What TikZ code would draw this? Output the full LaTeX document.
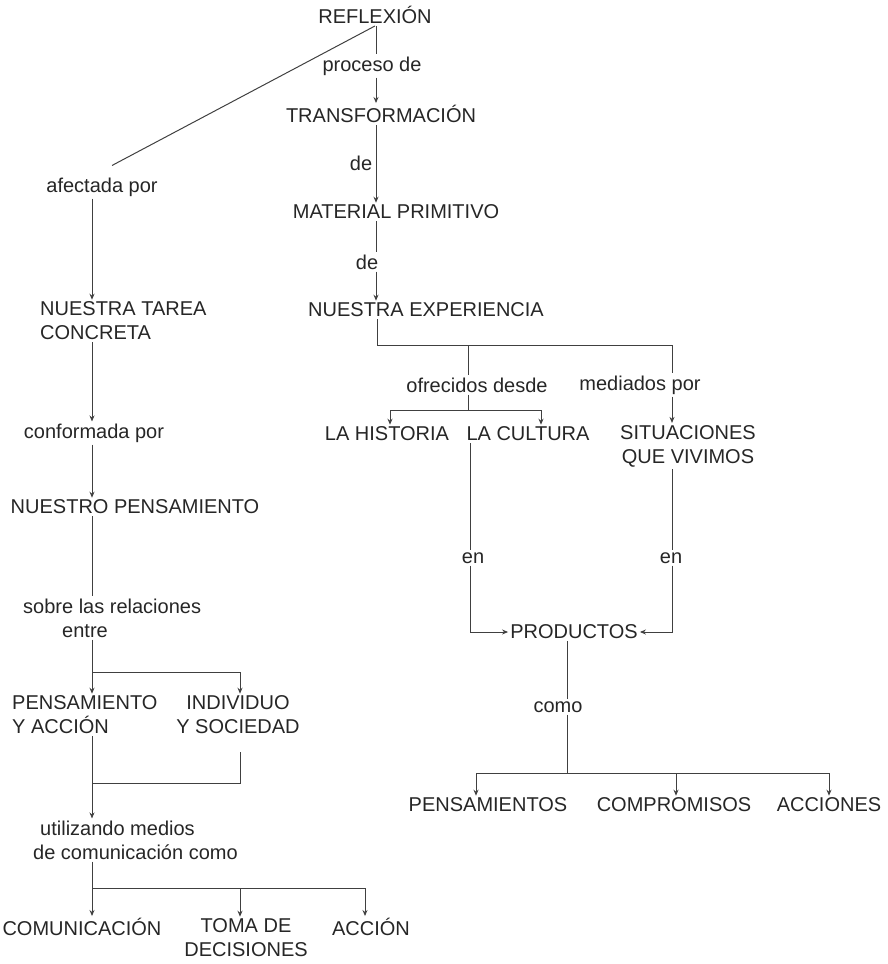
\documentclass[tikz,border=0pt]{standalone}
\usepackage{fontspec}
\setmainfont{Liberation Sans}
\usetikzlibrary{arrows.meta, positioning, calc}

\begin{document}
\begin{tikzpicture}[x=1pt, y=-1pt,
    txt/.style={font=\fontsize{20}{24}\selectfont, text=black!85, inner sep=2pt},
    ln/.style={black!75, line width=1pt},
    arr/.style={ln, -{Stealth[length=6pt, width=5pt]}}]
    \useasboundingbox (0,0) rectangle (888,964);

    % Right column
    \node[txt] (refl) at (375,15) {REFLEXIÓN};
    \node[txt] (proc) at (372,66) {proceso de};
    \node[txt] (trans) at (381,114) {TRANSFORMACIÓN};
    \node[txt] (de1) at (361,163) {de};
    \node[txt] (mat) at (396,212) {MATERIAL PRIMITIVO};
    \node[txt] (de2) at (367,262) {de};
    \node[txt] (exp) at (426,310) {NUESTRA EXPERIENCIA};
    \node[txt] (ofr) at (477,385) {ofrecidos desde};
    \node[txt] (med) at (640,385) {mediados por};
    \node[txt] (hist) at (387,434) {LA HISTORIA};
    \node[txt] (cult) at (528,434) {LA CULTURA};
    \node[txt, align=center] (sit) at (688,446) {SITUACIONES\\QUE VIVIMOS};
    \node[txt] (en1) at (473,558) {en};
    \node[txt] (en2) at (671,558) {en};
    \node[txt] (prod) at (574,632) {PRODUCTOS};
    \node[txt] (como) at (558,707) {como};
    \node[txt] (pens) at (488,805) {PENSAMIENTOS};
    \node[txt] (comp) at (674,805) {COMPROMISOS};
    \node[txt] (acc) at (829,805) {ACCIONES};

    % Left column
    \node[txt] (afec) at (102,187) {afectada por};
    \node[txt, align=left, anchor=west] (tarea) at (38,321) {NUESTRA TAREA\\CONCRETA};
    \node[txt] (conf) at (94,433) {conformada por};
    \node[txt] (npens) at (135,507) {NUESTRO PENSAMIENTO};
    \node[txt, align=left, anchor=west] (sobre) at (21,618) {sobre las relaciones\\\hspace*{39pt}entre};
    \node[txt, align=left, anchor=west] (pya) at (10,715) {PENSAMIENTO\\Y ACCIÓN};
    \node[txt, align=center] (iys) at (238,715) {INDIVIDUO\\Y SOCIEDAD};
    \node[txt, align=left, anchor=west] (util) at (31,840) {\hspace*{7pt}utilizando medios\\de comunicación como};
    \node[txt] (comu) at (82,927) {COMUNICACIÓN};
    \node[txt, align=center] (toma) at (246,938) {TOMA DE\\DECISIONES};
    \node[txt] (accion) at (371,927) {ACCIÓN};

    % Junctions
    \coordinate (jexp) at (468,345);
    \coordinate (jofr) at (468,410);
    \coordinate (jcomo) at (567,773);
    \coordinate (jsobre) at (92,672);
    \coordinate (jpya) at (92,783);
    \coordinate (jutil) at (92,888);

    % Right connectors
    \draw[ln] (refl.south) -- ([xshift=10pt, yshift=10pt]afec.north);
    \draw[ln] (376,0 |- refl.south) -- (376,0 |- proc.north);
    \draw[arr] (376,0 |- proc.south) -- (376,0 |- trans.north);
    \draw[arr] (376,0 |- trans.south) -- (376,0 |- mat.north);
    \draw[ln] (376,0 |- mat.south) -- (376,0 |- de2.north);
    \draw[arr] (376,0 |- de2.south) -- (376,0 |- exp.north);
    \draw[ln] (377,0 |- exp.south) |- (672,345) -- (672,0 |- med.north);
    \draw[arr] (672,0 |- med.south) -- (672,0 |- sit.north);
    \draw[ln] (jexp) -- (468,0 |- ofr.north);
    \draw[ln] (468,0 |- ofr.south) -- (jofr);
    \draw[arr] (jofr) -| (390,0 |- hist.north);
    \draw[arr] (jofr) -| (541,0 |- cult.north);
    \draw[ln] (470,0 |- cult.south) -- (470,0 |- en1.north);
    \draw[arr] (470,0 |- en1.south) |- (prod.west);
    \draw[ln] (672,0 |- sit.south) -- (672,0 |- en2.north);
    \draw[arr] (672,0 |- en2.south) |- (prod.east);
    \draw[ln] (567,0 |- prod.south) -- (567,0 |- como.north);
    \draw[ln] (567,0 |- como.south) -- (jcomo);
    \draw[arr] (jcomo) -| (476,0 |- pens.north);
    \draw[arr] (jcomo) -| (676,0 |- comp.north);
    \draw[arr] (jcomo) -| (829,0 |- acc.north);

    % Left connectors
    \draw[arr] (92,0 |- afec.south) -- (92,0 |- tarea.north);
    \draw[arr] (92,0 |- tarea.south) -- (92,0 |- conf.north);
    \draw[arr] (92,0 |- conf.south) -- (92,0 |- npens.north);
    \draw[ln] (92,0 |- npens.south) -- (92,0 |- sobre.north);
    \draw[ln] (92,0 |- sobre.south) -- (jsobre);
    \draw[arr] (jsobre) -- (92,0 |- pya.north);
    \draw[arr] (jsobre) -| (240,0 |- iys.north);
    \draw[ln] (92,0 |- pya.south) -- (jpya) -| ([yshift=-16pt]240,0 |- iys.south);
    \draw[arr] (jpya) -- (92,0 |- util.north);
    \draw[ln] (92,0 |- util.south) -- (jutil);
    \draw[arr] (jutil) -- (92,0 |- comu.north);
    \draw[arr] (jutil) -| (240,0 |- toma.north);
    \draw[arr] (jutil) -| (365,0 |- accion.north);
\end{tikzpicture}
\end{document}
